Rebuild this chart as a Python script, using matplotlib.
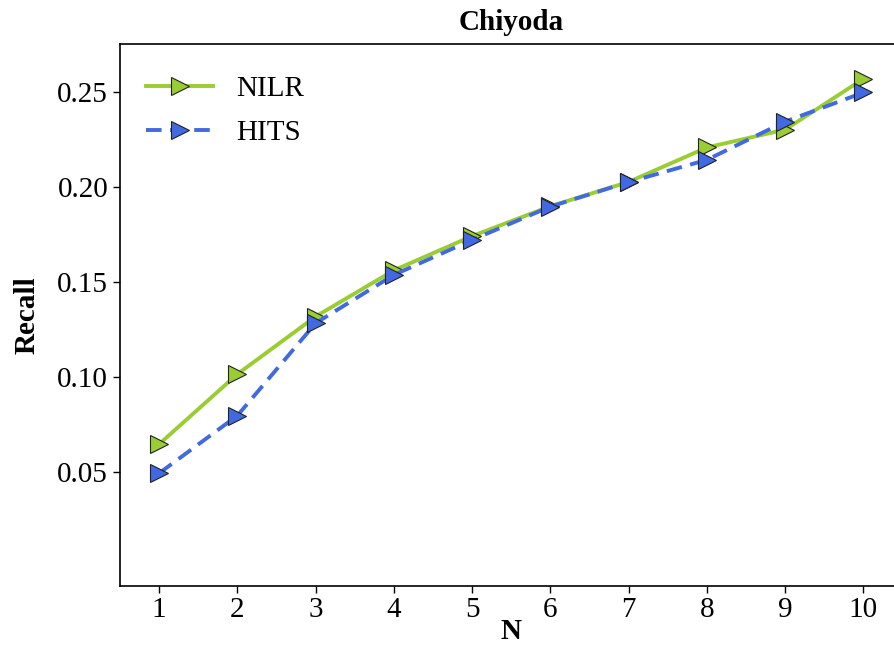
import matplotlib
matplotlib.use("Agg")
import matplotlib.pyplot as plt

plt.rcParams['font.family'] = ['Liberation Serif', 'DejaVu Serif']
plt.rcParams['mathtext.fontset'] = 'stix'

n_values = [1, 2, 3, 4, 5, 6, 7, 8, 9, 10]
nilr = [0.0646, 0.1014, 0.1317, 0.1560, 0.1740, 0.1897, 0.2025, 0.2206, 0.2300, 0.2567]
hits = [0.0493, 0.0796, 0.1282, 0.1536, 0.1720, 0.1895, 0.2024, 0.2141, 0.2342, 0.2495]
y_ticks = [0.05, 0.10, 0.15, 0.20, 0.25]
y_tick_labels = ["0.05", "0.10", "0.15", "0.20", "0.25"]

fig = plt.figure(figsize=(8.94, 6.66), dpi=100)
ax = fig.add_axes([120/894, 80/666, (902.6-120)/894, (586-44)/666])

ax.plot(n_values, nilr, color='#9ACD32', linestyle='-', linewidth=2.8,
        marker='>', markersize=12.5, markerfacecolor='#9ACD32',
        markeredgecolor='#222222', markeredgewidth=0.8, label='NILR')
ax.plot(n_values, hits, color='#4169E1', linestyle='--', linewidth=2.8,
        dashes=(4, 2.2),
        marker='>', markersize=12.5, markerfacecolor='#4169E1',
        markeredgecolor='#222222', markeredgewidth=0.8, label='HITS')

ax.set_xlim(0.5, 10.5)
ax.set_ylim(-0.01, 0.275)
ax.set_xticks(n_values)
ax.set_xticklabels([str(v) for v in n_values])
ax.set_yticks(y_ticks)
ax.set_yticklabels(y_tick_labels)
ax.tick_params(axis='both', labelsize=21, length=5, width=1.0, direction='out')
ax.tick_params(axis='x', pad=3)
for sp in ax.spines.values():
    sp.set_linewidth(1.2)

ax.set_title('Chiyoda', fontsize=21, fontweight='bold', pad=10)
ax.set_xlabel('N', fontsize=21, fontweight='bold', labelpad=-4)
ax.set_ylabel('Recall', fontsize=21, fontweight='bold', labelpad=12)

ax.legend(loc='upper left', fontsize=21, frameon=False, handlelength=2.3,
          labelspacing=0.6, borderaxespad=0.5, bbox_to_anchor=(0.0, 0.99))

fig.savefig('out.png', dpi=100)
